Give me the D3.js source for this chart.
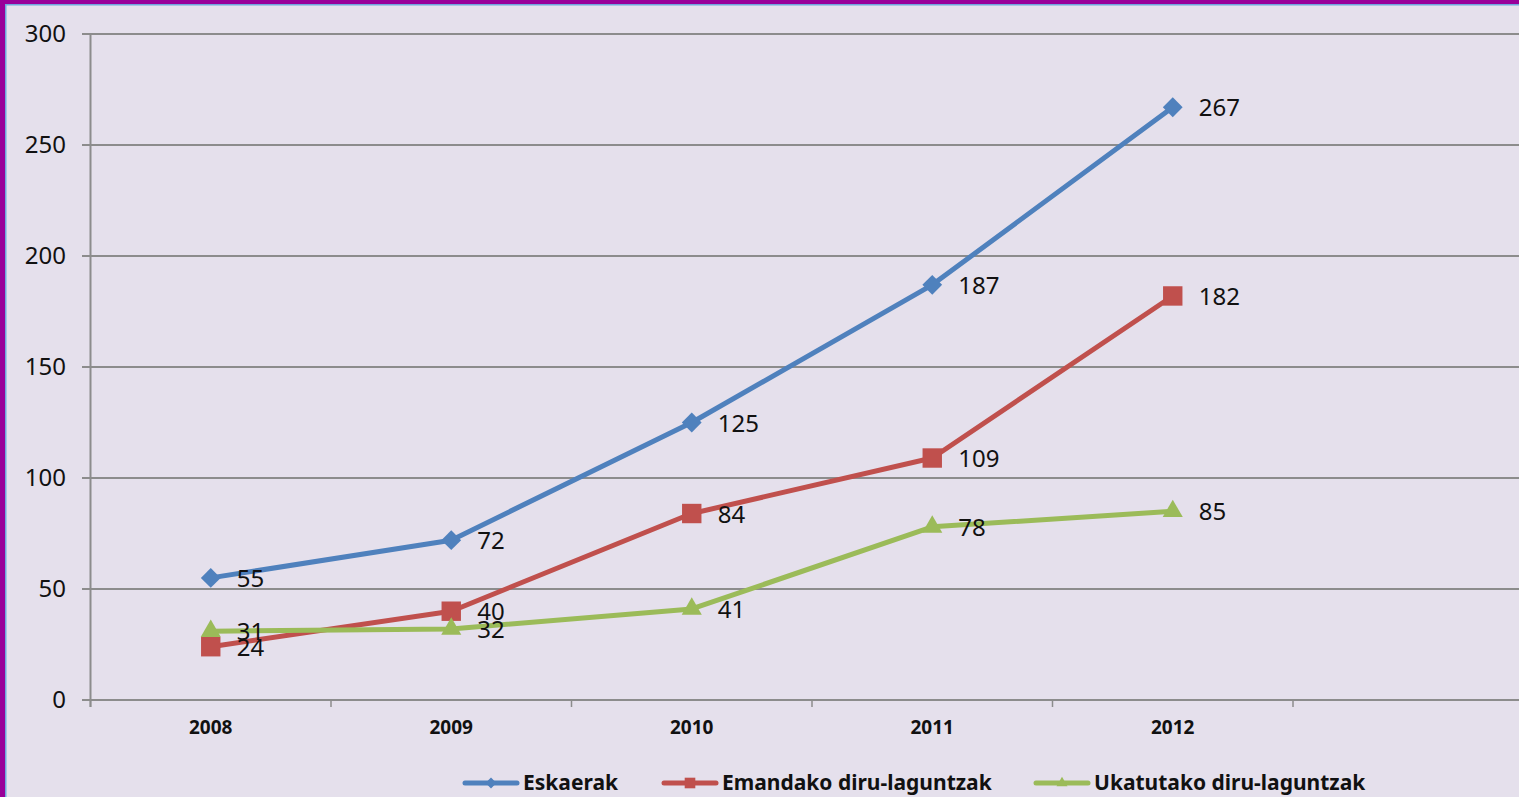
<!DOCTYPE html>
<html>
<head>
<meta charset="utf-8">
<script src="https://cdn.jsdelivr.net/npm/d3@7"></script>
<style>
  html, body { margin: 0; padding: 0; background: #e5e0ec; overflow: hidden; }
  #chart { width: 1519px; height: 797px; }
  text { font-family: "Noto Sans", Lato, sans-serif; }
</style>
</head>
<body>
<div id="chart"></div>
<script>
// categories (last band is empty in the original)
var years = ["2008", "2009", "2010", "2011", "2012", ""];
var eskaerak = [55, 72, 125, 187, 267];
var emandako = [24, 40, 84, 109, 182];
var ukatutako = [31, 32, 41, 78, 85];
var yTicks = [0, 50, 100, 150, 200, 250, 300];
var seriesNames = ["Eskaerak", "Emandako diru-laguntzak", "Ukatutako diru-laguntzak"];

var series = [
    {name: seriesNames[0], values: eskaerak, color: "#4f81bd", symbol: d3.symbolDiamond2, size: 250},
    {name: seriesNames[1], values: emandako, color: "#c0504d", symbol: d3.symbolSquare2, size: 480},
    {name: seriesNames[2], values: ukatutako, color: "#9bbb59", symbol: d3.symbolTriangle2, size: 290}
];

var width = 1519, height = 797;
var svg = d3.select("#chart").append("svg")
    .attr("width", width)
    .attr("height", height);

// background and frame
svg.append("rect").attr("width", width).attr("height", height).attr("fill", "#e5e0ec");
svg.append("rect").attr("x", 0).attr("y", 0).attr("width", width).attr("height", 4).attr("fill", "#990099");
svg.append("rect").attr("x", 0).attr("y", 0).attr("width", 5).attr("height", height).attr("fill", "#990099");
svg.append("rect").attr("x", 5).attr("y", 4).attr("width", width).attr("height", 1.5).attr("fill", "#6fa8dc");
svg.append("rect").attr("x", 5).attr("y", 4).attr("width", 1.5).attr("height", height).attr("fill", "#6fa8dc");

// scales
var x = d3.scaleBand().domain(years).range([90.5, 1533.5]);
var y = d3.scaleLinear().domain([0, 300]).range([700, 34]);
var cx = function(i) { return x(years[i]) + x.bandwidth() / 2; };

// gridlines
svg.append("g").selectAll("line")
    .data(yTicks)
    .enter().append("line")
    .attr("x1", 82).attr("x2", width)
    .attr("y1", function(d) { return y(d); })
    .attr("y2", function(d) { return y(d); })
    .style("stroke", "#8c8c8c")
    .style("stroke-width", 2);

// y axis line
svg.append("line")
    .attr("x1", 90.5).attr("x2", 90.5)
    .attr("y1", y(300)).attr("y2", 707)
    .style("stroke", "#8c8c8c").style("stroke-width", 2);

// x tick marks at band boundaries
svg.append("g").selectAll("line")
    .data(years)
    .enter().append("line")
    .attr("x1", function(d) { return x(d); })
    .attr("x2", function(d) { return x(d); })
    .attr("y1", 700).attr("y2", 707)
    .style("stroke", "#8c8c8c").style("stroke-width", 1.5);

// y labels
svg.append("g").selectAll("text")
    .data(yTicks)
    .enter().append("text")
    .attr("x", 66)
    .attr("y", function(d) { return y(d); })
    .attr("dy", "0.35em")
    .attr("text-anchor", "end")
    .style("font-size", "24px")
    .style("fill", "#111")
    .text(function(d) { return d; });

// x labels
svg.append("g").selectAll("text")
    .data(years.slice(0, 5))
    .enter().append("text")
    .attr("x", function(d, i) { return cx(i); })
    .attr("y", 734)
    .attr("text-anchor", "middle")
    .style("font-size", "19px")
    .style("font-weight", "bold")
    .style("fill", "#111")
    .text(function(d) { return d; });

var line = d3.line()
    .x(function(d, i) { return cx(i); })
    .y(function(d) { return y(d); });

series.forEach(function(s) {
    var g = svg.append("g");
    g.append("path")
        .attr("d", line(s.values))
        .style("fill", "none")
        .style("stroke", s.color)
        .style("stroke-width", 5)
        .style("stroke-linejoin", "round");

    g.selectAll("path.marker")
        .data(s.values)
        .enter().append("path")
        .attr("class", "marker")
        .attr("transform", function(d, i) { return "translate(" + cx(i) + "," + y(d) + ")"; })
        .attr("d", d3.symbol().type(s.symbol).size(s.size))
        .style("fill", s.color);

    g.selectAll("text")
        .data(s.values)
        .enter().append("text")
        .attr("x", function(d, i) { return cx(i) + 26; })
        .attr("y", function(d) { return y(d); })
        .attr("dy", "0.38em")
        .style("font-size", "24px")
        .style("fill", "#111")
        .text(function(d) { return d; });
});

// legend
var legendX = [463, 662, 1034];
var legend = svg.append("g");
series.forEach(function(s, i) {
    var lg = legend.append("g").attr("transform", "translate(" + legendX[i] + ",783)");
    lg.append("line")
        .attr("x1", 2).attr("x2", 54)
        .style("stroke", s.color).style("stroke-width", 5).style("stroke-linecap", "round");
    lg.append("path")
        .attr("transform", "translate(28,0)")
        .attr("d", d3.symbol().type(s.symbol).size(s.size * 0.3))
        .style("fill", s.color);
    lg.append("text")
        .attr("x", 60)
        .attr("dy", "0.35em")
        .style("font-size", "21px")
        .style("font-weight", "bold")
        .style("fill", "#111")
        .text(s.name);
});
</script>
</body>
</html>
